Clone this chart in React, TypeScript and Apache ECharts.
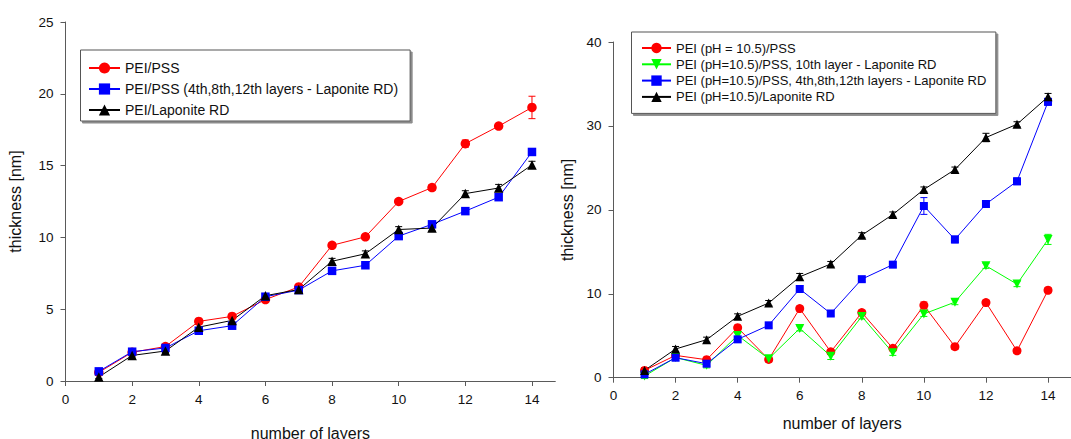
import React, { useEffect, useRef } from "react";
import * as echarts from "echarts";

// Layer numbers shared by both panels
const layers = [1, 2, 3, 4, 5, 6, 7, 8, 9, 10, 11, 12, 13, 14];
const xTicks = [0, 2, 4, 6, 8, 10, 12, 14];

// Left panel: thickness [nm]
const pssL = [0.6, 2.0, 2.4, 4.15, 4.5, 5.67, 6.55, 9.45, 10.04, 12.5, 13.47, 16.53, 17.75, 19.05];
const pssLapL = [0.67, 2.04, 2.3, 3.5, 3.85, 5.87, 6.33, 7.67, 8.06, 10.09, 10.91, 11.83, 12.8, 15.95];
const lapL = [0.28, 1.78, 2.09, 3.75, 4.22, 5.94, 6.37, 8.34, 8.86, 10.55, 10.65, 13.05, 13.44, 15.05];
const pssLErr = [0.1, 0.1, 0.1, 0.15, 0.15, 0.15, 0.15, 0.15, 0.15, 0.15, 0.2, 0.25, 0.15, 0.78];
const pssLapLErr = [0.1, 0.1, 0.1, 0.15, 0.15, 0.15, 0.15, 0.15, 0.15, 0.2, 0.15, 0.15, 0.2, 0.2];
const lapLErr = [0.1, 0.1, 0.1, 0.2, 0.2, 0.15, 0.15, 0.2, 0.2, 0.2, 0.2, 0.2, 0.25, 0.25];

// Right panel: thickness [nm], PEI deposited at pH 10.5
const pssR = [0.87, 2.66, 2.14, 5.96, 2.18, 8.24, 3.08, 7.76, 3.5, 8.62, 3.7, 8.95, 3.2, 10.42];
const pss10R = [0.2, 2.4, 1.47, 5.04, 2.26, 5.87, 2.57, 7.3, 2.96, 7.6, 9.0, 13.33, 11.15, 16.48];
const pssLapR = [0.4, 2.38, 1.67, 4.57, 6.24, 10.57, 7.65, 11.74, 13.47, 20.46, 16.47, 20.7, 23.4, 32.87];
const lapR = [0.87, 3.42, 4.53, 7.31, 8.9, 12.02, 13.55, 16.98, 19.45, 22.43, 24.8, 28.62, 30.2, 33.47];
const pssRErr = [0.3, 0.3, 0.3, 0.3, 0.3, 0.3, 0.3, 0.3, 0.3, 0.4, 0.3, 0.3, 0.3, 0.3];
const pss10RErr = [0.3, 0.3, 0.3, 0.3, 0.3, 0.3, 0.4, 0.3, 0.3, 0.3, 0.3, 0.3, 0.3, 0.6];
const pssLapRErr = [0.3, 0.3, 0.3, 0.3, 0.3, 0.4, 0.3, 0.3, 0.3, 1.0, 0.4, 0.4, 0.4, 0.4];
const lapRErr = [0.3, 0.3, 0.3, 0.3, 0.3, 0.4, 0.3, 0.3, 0.3, 0.3, 0.3, 0.5, 0.3, 0.4];

const namesL = ["PEI/PSS", "PEI/PSS (4th,8th,12th layers - Laponite RD)", "PEI/Laponite RD"];
const namesR = [
  "PEI (pH = 10.5)/PSS",
  "PEI (pH=10.5)/PSS, 10th layer - Laponite RD",
  "PEI (pH=10.5)/PSS, 4th,8th,12th layers - Laponite RD",
  "PEI (pH=10.5)/Laponite RD",
];

const FONT = "'Liberation Sans', Arial, sans-serif";
const AXIS_COLOR = "#5a5a5a";
const TEXT_COLOR = "#111";

function pairs(vals: number[]) {
  return layers.map((x, i) => [x, vals[i]]);
}

function lineSeries(
  name: string,
  vals: number[],
  color: string,
  symbol: string,
  size: number,
  idx: number,
  rotate = 0
) {
  return {
    type: "line",
    name,
    xAxisIndex: idx,
    yAxisIndex: idx,
    data: pairs(vals),
    symbol,
    symbolSize: size,
    symbolRotate: rotate,
    showAllSymbol: true,
    lineStyle: { color, width: 1 },
    itemStyle: { color },
    z: 3,
  };
}

function errorSeries(vals: number[], errs: number[], color: string, idx: number) {
  return {
    type: "custom",
    xAxisIndex: idx,
    yAxisIndex: idx,
    data: layers.map((x, i) => [x, vals[i] - errs[i], vals[i] + errs[i]]),
    encode: { x: 0, y: [1, 2] },
    z: 2,
    silent: true,
    renderItem: (_params: any, api: any) => {
      const x = api.value(0);
      const lo = api.coord([x, api.value(1)]);
      const hi = api.coord([x, api.value(2)]);
      const w = 3.5;
      const style = { stroke: color, lineWidth: 1 };
      return {
        type: "group",
        children: [
          { type: "line", shape: { x1: lo[0], y1: lo[1], x2: hi[0], y2: hi[1] }, style },
          { type: "line", shape: { x1: lo[0] - w, y1: lo[1], x2: lo[0] + w, y2: lo[1] }, style },
          { type: "line", shape: { x1: hi[0] - w, y1: hi[1], x2: hi[0] + w, y2: hi[1] }, style },
        ],
      };
    },
  };
}

function xAxis(idx: number, max: number, nameGap: number) {
  return {
    type: "value",
    gridIndex: idx,
    min: 0,
    max,
    name: "number of layers",
    nameLocation: "middle",
    nameGap,
    nameTextStyle: { fontFamily: FONT, fontSize: 16, color: TEXT_COLOR },
    axisLine: { show: true, lineStyle: { color: AXIS_COLOR, width: 1 } },
    axisTick: { show: true, inside: false, length: 5, customValues: xTicks, lineStyle: { color: AXIS_COLOR } },
    axisLabel: { customValues: xTicks, margin: 11, fontFamily: FONT, fontSize: 13.5, color: TEXT_COLOR },
    splitLine: { show: false },
  };
}

function yAxis(idx: number, max: number, interval: number, nameGap: number) {
  return {
    type: "value",
    gridIndex: idx,
    min: 0,
    max,
    interval,
    name: "thickness [nm]",
    nameLocation: "middle",
    nameGap,
    nameRotate: 90,
    nameTextStyle: { fontFamily: FONT, fontSize: 16, color: TEXT_COLOR },
    axisLine: { show: true, lineStyle: { color: AXIS_COLOR, width: 1 } },
    axisTick: { show: true, inside: false, length: 5, lineStyle: { color: AXIS_COLOR } },
    axisLabel: { margin: 12, fontFamily: FONT, fontSize: 13.5, color: TEXT_COLOR },
    splitLine: { show: false },
  };
}

function legend(
  data: string[],
  left: number,
  top: number,
  fontSize: number,
  itemWidth: number,
  itemHeight: number,
  itemGap: number,
  padding: number[]
) {
  return {
    data,
    orient: "vertical",
    left,
    top,
    itemWidth,
    itemHeight,
    itemGap,
    padding,
    selectedMode: false,
    backgroundColor: "#fff",
    borderColor: "#555",
    borderWidth: 1,
    borderRadius: 0,
    shadowColor: "rgba(0,0,0,0.45)",
    shadowBlur: 0,
    shadowOffsetX: 2,
    shadowOffsetY: 2,
    textStyle: { fontFamily: FONT, fontSize, color: TEXT_COLOR, lineHeight: fontSize, padding: [0, 0, 0, 0] },
  };
}

export default function App() {
  const ref = useRef<HTMLDivElement>(null);

  useEffect(() => {
    if (!ref.current) return;
    const chart = echarts.init(ref.current, undefined, { renderer: "svg" });
    chart.setOption({
      animation: false,
      backgroundColor: "#fff",
      grid: [
        { left: 65.5, top: 22, width: 489.8, height: 359, containLabel: false, outerBoundsMode: "none" },
        { left: 613.5, top: 42, width: 457.5, height: 335.7, containLabel: false, outerBoundsMode: "none" },
      ],
      xAxis: [xAxis(0, 14.7, 44), xAxis(1, 14.74, 38)],
      yAxis: [yAxis(0, 25, 5, 42), yAxis(1, 40, 10, 38)],
      legend: [
        legend(namesL, 80.5, 50, 14, 31, 14, 7, [11, 12, 4, 7.5]),
        legend(namesR, 631.5, 32, 13, 29, 13, 3.3, [9.5, 9.5, 10, 9.5]),
      ],
      series: [
        errorSeries(pssL, pssLErr, "#ff0000", 0),
        errorSeries(pssLapL, pssLapLErr, "#0000ff", 0),
        errorSeries(lapL, lapLErr, "#000000", 0),
        lineSeries(namesL[0], pssL, "#ff0000", "circle", 9.5, 0),
        lineSeries(namesL[1], pssLapL, "#0000ff", "rect", 8.5, 0),
        lineSeries(namesL[2], lapL, "#000000", "triangle", 9.5, 0),
        errorSeries(pssR, pssRErr, "#ff0000", 1),
        errorSeries(pss10R, pss10RErr, "#00ff00", 1),
        errorSeries(pssLapR, pssLapRErr, "#0000ff", 1),
        errorSeries(lapR, lapRErr, "#000000", 1),
        lineSeries(namesR[0], pssR, "#ff0000", "circle", 9, 1),
        lineSeries(namesR[1], pss10R, "#00ff00", "triangle", 9, 1, 180),
        lineSeries(namesR[2], pssLapR, "#0000ff", "rect", 8, 1),
        lineSeries(namesR[3], lapR, "#000000", "triangle", 9, 1),
      ],
    });
    return () => chart.dispose();
  }, []);

  return (
    <div
      ref={ref}
      style={{ position: "absolute", left: 0, top: 0, width: 1071, height: 439, background: "#fff" }}
    />
  );
}
